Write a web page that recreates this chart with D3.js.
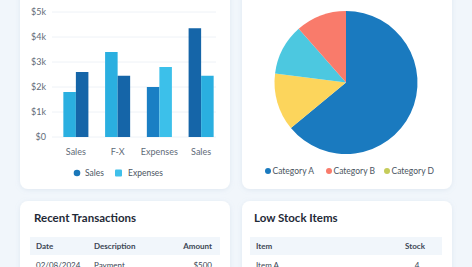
<!DOCTYPE html>
<html>
<head>
<meta charset="utf-8">
<script src="https://cdn.jsdelivr.net/npm/d3@7"></script>
<style>
  html, body { margin: 0; padding: 0; background: #f1f6fb; }
  svg { display: block; font-family: "Lato", "Open Sans", sans-serif; }
</style>
</head>
<body>
<div id="dash"></div>
<script>
/* data */
var groups = ["Sales", "F-X", "Expenses", "Sales"];
var firstBar = [1.8, 3.4, 2.0, 4.35];
var secondBar = [2.6, 2.45, 2.8, 2.45];
var yTicks = [0, 1, 2, 3, 4, 5];
var barLegend = ["Sales", "Expenses"];

var pieCats = ["Category A", "Category D", "Category C", "Category B"];
var pieVals = [64, 13, 11.5, 11.5];
var pieLegend = ["Category A", "Category B", "Category D"];

var txHeader = ["Date", "Description", "Amount"];
var txRows = [["02/08/2024", "Payment", "$500"]];
var stockHeader = ["Item", "Stock"];
var stockRows = [["Item A", "4"]];

/* colours */
var firstColors = ["#2aafe0", "#2aafe0", "#1a7fc4", "#1565a8"];
var secondColors = ["#1565a8", "#1565a8", "#3cc0ea", "#2aafe0"];
var pieColors = {"Category A": "#1a7abf", "Category B": "#f97b6b", "Category C": "#4cc8e0", "Category D": "#fcd55c"};
var pieLegendColors = {"Category A": "#1a7abf", "Category B": "#f97b6b", "Category D": "#c5cc5a"};

var W = 472, H = 267;
var svg = d3.select("#dash").append("svg")
    .attr("width", W)
    .attr("height", H);

var defs = svg.append("defs");
var f = defs.append("filter").attr("id", "shadow")
    .attr("x", "-10%").attr("y", "-10%").attr("width", "120%").attr("height", "130%");
f.append("feDropShadow").attr("dx", 0).attr("dy", 1).attr("stdDeviation", 2.5)
    .attr("flood-color", "#8aa4c0").attr("flood-opacity", 0.18);

function card(x, y, w, h) {
    svg.append("rect")
        .attr("x", x).attr("y", y).attr("width", w).attr("height", h)
        .attr("rx", 8)
        .attr("fill", "#fff")
        .attr("filter", "url(#shadow)");
}

card(20, -20, 210, 209);
card(242, -20, 210, 209);
card(20, 201, 210, 90);
card(242, 201, 210, 90);

/* bar chart */
var x = d3.scaleBand()
    .domain(d3.range(groups.length))
    .range([55, 222])
    .paddingInner(0.4)
    .paddingOuter(0.2);

var y = d3.scaleLinear()
    .domain([0, 5])
    .range([137, 12]);

var bar = svg.append("g");

bar.selectAll(".grid")
    .data(yTicks)
    .enter().append("line")
    .attr("x1", 52).attr("x2", 216)
    .attr("y1", function(d) { return y(d); })
    .attr("y2", function(d) { return y(d); })
    .attr("stroke", "#eef2f7")
    .attr("stroke-width", 1);

bar.selectAll(".ytick")
    .data(yTicks)
    .enter().append("text")
    .attr("x", 46)
    .attr("y", function(d) { return y(d); })
    .attr("dy", "0.35em")
    .attr("text-anchor", "end")
    .attr("font-size", 9)
    .attr("fill", "#5f6b78")
    .text(function(d) { return d === 0 ? "$0" : "$" + d + "k"; });

var bw = x.bandwidth() / 2;

bar.selectAll(".b1")
    .data(firstBar)
    .enter().append("rect")
    .attr("x", function(d, i) { return x(i); })
    .attr("y", function(d) { return y(d); })
    .attr("width", bw)
    .attr("height", function(d) { return y(0) - y(d); })
    .attr("fill", function(d, i) { return firstColors[i]; });

bar.selectAll(".b2")
    .data(secondBar)
    .enter().append("rect")
    .attr("x", function(d, i) { return x(i) + bw; })
    .attr("y", function(d) { return y(d); })
    .attr("width", bw)
    .attr("height", function(d) { return y(0) - y(d); })
    .attr("fill", function(d, i) { return secondColors[i]; });

bar.selectAll(".xlab")
    .data(groups)
    .enter().append("text")
    .attr("x", function(d, i) { return x(i) + x.bandwidth() / 2; })
    .attr("y", 155)
    .attr("text-anchor", "middle")
    .attr("font-size", 9)
    .attr("fill", "#5f6b78")
    .text(function(d) { return d; });

var bl = bar.append("g");
bl.append("circle").attr("cx", 77).attr("cy", 173).attr("r", 3.3).attr("fill", "#1a77b9");
bl.append("text").attr("x", 85).attr("y", 173).attr("dy", "0.35em")
    .attr("font-size", 8.5).attr("fill", "#4a5562").text(barLegend[0]);
bl.append("rect").attr("x", 115).attr("y", 169.5).attr("width", 7).attr("height", 7)
    .attr("rx", 1).attr("fill", "#40c0ea");
bl.append("text").attr("x", 128).attr("y", 173).attr("dy", "0.35em")
    .attr("font-size", 8.5).attr("fill", "#4a5562").text(barLegend[1]);

/* pie chart */
var pie = d3.pie().sort(null).value(function(d) { return d; });
var arc = d3.arc().innerRadius(0).outerRadius(71.5);

var pg = svg.append("g").attr("transform", "translate(346,82.5)");
pg.selectAll("path")
    .data(pie(pieVals))
    .enter().append("path")
    .attr("d", arc)
    .attr("fill", function(d, i) { return pieColors[pieCats[i]]; });

var legX = [268, 329, 387];
var pl = svg.append("g");
pl.selectAll("circle")
    .data(pieLegend)
    .enter().append("circle")
    .attr("cx", function(d, i) { return legX[i]; })
    .attr("cy", 171)
    .attr("r", 3)
    .attr("fill", function(d) { return pieLegendColors[d]; });
pl.selectAll("text")
    .data(pieLegend)
    .enter().append("text")
    .attr("x", function(d, i) { return legX[i] + 4.5; })
    .attr("y", 171)
    .attr("dy", "0.35em")
    .attr("font-size", 8.5)
    .attr("fill", "#4a5562")
    .text(function(d) { return d; });

/* tables */
function table(x0, x1, title, header, rows, cols) {
    var g = svg.append("g");
    g.append("text")
        .attr("x", x0 + 2).attr("y", 222)
        .attr("font-size", 11.5)
        .attr("font-weight", 700)
        .attr("fill", "#1f2a37")
        .text(title);
    g.append("rect")
        .attr("x", x0 - 2).attr("y", 237)
        .attr("width", x1 - x0 + 4).attr("height", 18)
        .attr("fill", "#f1f6fb");
    g.selectAll(".h")
        .data(header)
        .enter().append("text")
        .attr("x", function(d, i) { return cols[i].x; })
        .attr("y", 246)
        .attr("dy", "0.35em")
        .attr("text-anchor", function(d, i) { return cols[i].a; })
        .attr("font-size", 8)
        .attr("font-weight", 700)
        .attr("fill", "#3b4654")
        .text(function(d) { return d; });
    rows.forEach(function(r, j) {
        g.selectAll(".r" + j)
            .data(r)
            .enter().append("text")
            .attr("x", function(d, i) { return cols[i].rx; })
            .attr("y", 265 + j * 18)
            .attr("dy", "0.35em")
            .attr("text-anchor", function(d, i) { return cols[i].ra; })
            .attr("font-size", 8)
            .attr("fill", "#3b4654")
            .text(function(d) { return d; });
    });
}

table(32, 218, "Recent Transactions", txHeader, txRows, [
    {x: 36, a: "start", rx: 36, ra: "start"},
    {x: 94, a: "start", rx: 94, ra: "start"},
    {x: 212, a: "end", rx: 212, ra: "end"}
]);
table(252, 440, "Low Stock Items", stockHeader, stockRows, [
    {x: 256, a: "start", rx: 256, ra: "start"},
    {x: 425, a: "end", rx: 417, ra: "middle"}
]);
</script>
</body>
</html>
